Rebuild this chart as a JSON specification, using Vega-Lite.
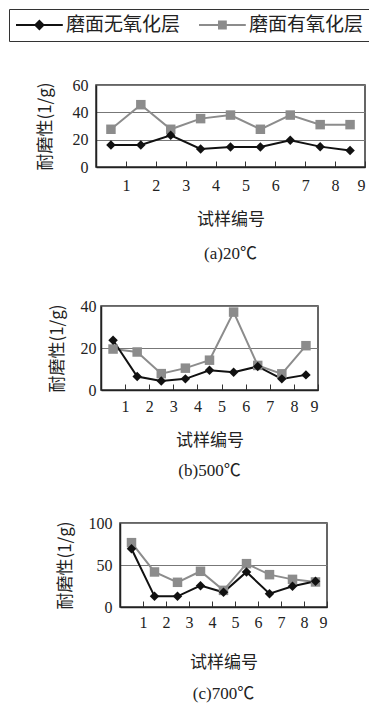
{
  "$schema": "https://vega.github.io/schema/vega-lite/v6.json",
  "background": "white",
  "padding": {"left": 8, "top": 8, "right": 0, "bottom": 0},
  "datasets": {
    "d": [
      {"panel": "a", "series": "磨面有氧化层", "x": 0.5, "y": 27.6},
      {"panel": "a", "series": "磨面有氧化层", "x": 1.5, "y": 45.6},
      {"panel": "a", "series": "磨面有氧化层", "x": 2.5, "y": 27.6},
      {"panel": "a", "series": "磨面有氧化层", "x": 3.5, "y": 35.4},
      {"panel": "a", "series": "磨面有氧化层", "x": 4.5, "y": 38.0},
      {"panel": "a", "series": "磨面有氧化层", "x": 5.5, "y": 27.6},
      {"panel": "a", "series": "磨面有氧化层", "x": 6.5, "y": 38.0},
      {"panel": "a", "series": "磨面有氧化层", "x": 7.5, "y": 31.0},
      {"panel": "a", "series": "磨面有氧化层", "x": 8.5, "y": 31.0},
      {"panel": "a", "series": "磨面无氧化层", "x": 0.5, "y": 16.1},
      {"panel": "a", "series": "磨面无氧化层", "x": 1.5, "y": 16.1},
      {"panel": "a", "series": "磨面无氧化层", "x": 2.5, "y": 23.2},
      {"panel": "a", "series": "磨面无氧化层", "x": 3.5, "y": 13.2},
      {"panel": "a", "series": "磨面无氧化层", "x": 4.5, "y": 14.6},
      {"panel": "a", "series": "磨面无氧化层", "x": 5.5, "y": 14.6},
      {"panel": "a", "series": "磨面无氧化层", "x": 6.5, "y": 19.5},
      {"panel": "a", "series": "磨面无氧化层", "x": 7.5, "y": 14.9},
      {"panel": "a", "series": "磨面无氧化层", "x": 8.5, "y": 12.0},
      {"panel": "b", "series": "磨面有氧化层", "x": 0.5, "y": 19.5},
      {"panel": "b", "series": "磨面有氧化层", "x": 1.5, "y": 18.1},
      {"panel": "b", "series": "磨面有氧化层", "x": 2.5, "y": 7.8},
      {"panel": "b", "series": "磨面有氧化层", "x": 3.5, "y": 10.4},
      {"panel": "b", "series": "磨面有氧化层", "x": 4.5, "y": 14.2},
      {"panel": "b", "series": "磨面有氧化层", "x": 5.5, "y": 37.1},
      {"panel": "b", "series": "磨面有氧化层", "x": 6.5, "y": 11.7},
      {"panel": "b", "series": "磨面有氧化层", "x": 7.5, "y": 7.7},
      {"panel": "b", "series": "磨面有氧化层", "x": 8.5, "y": 21.1},
      {"panel": "b", "series": "磨面无氧化层", "x": 0.5, "y": 23.7},
      {"panel": "b", "series": "磨面无氧化层", "x": 1.5, "y": 6.4},
      {"panel": "b", "series": "磨面无氧化层", "x": 2.5, "y": 4.3},
      {"panel": "b", "series": "磨面无氧化层", "x": 3.5, "y": 5.3},
      {"panel": "b", "series": "磨面无氧化层", "x": 4.5, "y": 9.4},
      {"panel": "b", "series": "磨面无氧化层", "x": 5.5, "y": 8.5},
      {"panel": "b", "series": "磨面无氧化层", "x": 6.5, "y": 11.2},
      {"panel": "b", "series": "磨面无氧化层", "x": 7.5, "y": 5.3},
      {"panel": "b", "series": "磨面无氧化层", "x": 8.5, "y": 7.2},
      {"panel": "c", "series": "磨面有氧化层", "x": 0.5, "y": 76.6},
      {"panel": "c", "series": "磨面有氧化层", "x": 1.5, "y": 41.7},
      {"panel": "c", "series": "磨面有氧化层", "x": 2.5, "y": 29.4},
      {"panel": "c", "series": "磨面有氧化层", "x": 3.5, "y": 42.5},
      {"panel": "c", "series": "磨面有氧化层", "x": 4.5, "y": 19.8},
      {"panel": "c", "series": "磨面有氧化层", "x": 5.5, "y": 51.6},
      {"panel": "c", "series": "磨面有氧化层", "x": 6.5, "y": 38.5},
      {"panel": "c", "series": "磨面有氧化层", "x": 7.5, "y": 32.9},
      {"panel": "c", "series": "磨面有氧化层", "x": 8.5, "y": 29.8},
      {"panel": "c", "series": "磨面无氧化层", "x": 0.5, "y": 69.4},
      {"panel": "c", "series": "磨面无氧化层", "x": 1.5, "y": 12.7},
      {"panel": "c", "series": "磨面无氧化层", "x": 2.5, "y": 12.7},
      {"panel": "c", "series": "磨面无氧化层", "x": 3.5, "y": 25.4},
      {"panel": "c", "series": "磨面无氧化层", "x": 4.5, "y": 17.5},
      {"panel": "c", "series": "磨面无氧化层", "x": 5.5, "y": 41.7},
      {"panel": "c", "series": "磨面无氧化层", "x": 6.5, "y": 15.9},
      {"panel": "c", "series": "磨面无氧化层", "x": 7.5, "y": 24.6},
      {"panel": "c", "series": "磨面无氧化层", "x": 8.5, "y": 30.6}
    ]
  },
  "spacing": 34,
  "vconcat": [
    {
      "spacing": 0,
      "hconcat": [
        {"width": 26, "height": 2, "data": {"values": []}, "mark": {"type": "point", "opacity": 0}, "view": {"stroke": null}},
        {
          "width": 269, "height": 82,
          "data": {"name": "d"},
          "transform": [{"filter": "datum.panel === 'a'"}],
          "title": {"text": "(a)20℃", "orient": "bottom", "offset": 19},
          "encoding": {
            "x": {"field": "x", "type": "quantitative", "scale": {"domain": [0, 9], "nice": false}, "axis": {"values": [1, 2, 3, 4, 5, 6, 7, 8, 9], "title": "试样编号", "labelPadding": 16, "titlePadding": 18}},
            "y": {"field": "y", "type": "quantitative", "scale": {"domain": [0, 60], "nice": false}, "axis": {"values": [0, 20, 40, 60], "title": "耐磨性(1/g)", "titlePadding": 18}},
            "color": {"field": "series", "type": "nominal", "scale": {"domain": ["磨面无氧化层", "磨面有氧化层"], "range": ["#111111", "#8c8c8c"]}}
          },
          "layer": [
            {"transform": [{"filter": "false"}], "mark": {"type": "point", "filled": false, "strokeWidth": 2, "opacity": 1}, "encoding": {"shape": {"field": "series", "type": "nominal", "scale": {"domain": ["磨面无氧化层", "磨面有氧化层"], "range": ["M-1,0H4.2M1.6,-0.45L2.05,0L1.6,0.45L1.15,0Z", "M-1,0H4.2M1.22,-0.38H1.98V0.38H1.22Z"]}}}},
            {"mark": {"type": "line", "strokeWidth": 2}},
            {"transform": [{"filter": "datum.series === '磨面有氧化层'"}], "mark": {"type": "point", "filled": true, "shape": "square", "size": 90, "opacity": 1}},
            {"transform": [{"filter": "datum.series === '磨面无氧化层'"}], "mark": {"type": "point", "filled": true, "shape": "diamond", "size": 90, "opacity": 1}}
          ]
        }
      ]
    },
    {
      "spacing": 0,
      "hconcat": [
        {"width": 38, "height": 2, "data": {"values": []}, "mark": {"type": "point", "opacity": 0}, "view": {"stroke": null}},
        {
          "width": 217, "height": 84,
          "data": {"name": "d"},
          "transform": [{"filter": "datum.panel === 'b'"}],
          "title": {"text": "(b)500℃", "orient": "bottom", "offset": 15},
          "encoding": {
            "x": {"field": "x", "type": "quantitative", "scale": {"domain": [0, 9], "nice": false}, "axis": {"values": [1, 2, 3, 4, 5, 6, 7, 8, 9], "title": "试样编号", "labelPadding": 14, "titlePadding": 18}},
            "y": {"field": "y", "type": "quantitative", "scale": {"domain": [0, 40], "nice": false}, "axis": {"values": [0, 20, 40], "title": "耐磨性(1/g)", "titlePadding": 14, "labelPadding": 5}},
            "color": {"field": "series", "type": "nominal", "scale": {"domain": ["磨面无氧化层", "磨面有氧化层"], "range": ["#111111", "#8c8c8c"]}}
          },
          "layer": [
            {"mark": {"type": "line", "strokeWidth": 2}},
            {"transform": [{"filter": "datum.series === '磨面有氧化层'"}], "mark": {"type": "point", "filled": true, "shape": "square", "size": 90, "opacity": 1}},
            {"transform": [{"filter": "datum.series === '磨面无氧化层'"}], "mark": {"type": "point", "filled": true, "shape": "diamond", "size": 90, "opacity": 1}}
          ]
        }
      ]
    },
    {
      "spacing": 0,
      "hconcat": [
        {"width": 46, "height": 2, "data": {"values": []}, "mark": {"type": "point", "opacity": 0}, "view": {"stroke": null}},
        {
          "width": 207, "height": 84,
          "data": {"name": "d"},
          "transform": [{"filter": "datum.panel === 'c'"}],
          "title": {"text": "(c)700℃", "orient": "bottom", "offset": 16},
          "encoding": {
            "x": {"field": "x", "type": "quantitative", "scale": {"domain": [0, 9], "nice": false}, "axis": {"values": [1, 2, 3, 4, 5, 6, 7, 8, 9], "title": "试样编号", "labelPadding": 13, "titlePadding": 24}},
            "y": {"field": "y", "type": "quantitative", "scale": {"domain": [0, 100], "nice": false}, "axis": {"values": [0, 50, 100], "title": "耐磨性(1/g)", "titlePadding": 14}},
            "color": {"field": "series", "type": "nominal", "scale": {"domain": ["磨面无氧化层", "磨面有氧化层"], "range": ["#111111", "#8c8c8c"]}}
          },
          "layer": [
            {"mark": {"type": "line", "strokeWidth": 2}},
            {"transform": [{"filter": "datum.series === '磨面有氧化层'"}], "mark": {"type": "point", "filled": true, "shape": "square", "size": 90, "opacity": 1}},
            {"transform": [{"filter": "datum.series === '磨面无氧化层'"}], "mark": {"type": "point", "filled": true, "shape": "diamond", "size": 90, "opacity": 1}}
          ]
        }
      ]
    }
  ],
  "config": {
    "view": {"stroke": "#333", "strokeWidth": 1.5},
    "axis": {"labelFont": "Liberation Serif", "labelFontSize": 16, "labelColor": "#222", "titleFont": "Noto Sans CJK SC", "titleFontSize": 17, "titleFontWeight": "normal", "titleColor": "#222", "domainColor": "#222", "domainWidth": 1.5},
    "axisX": {"grid": false, "tickSize": -6, "tickColor": "#333"},
    "axisY": {"ticks": false, "grid": true, "gridColor": "#777", "gridWidth": 1, "labelPadding": 8},
    "title": {"font": "Liberation Serif, Noto Sans CJK SC", "fontSize": 17, "fontWeight": "normal", "color": "#222"},
    "legend": {
      "orient": "top",
      "direction": "horizontal",
      "title": null,
      "labelFont": "Noto Sans CJK SC",
      "labelFontSize": 19,
      "labelColor": "#222",
      "symbolSize": 324,
      "symbolStrokeWidth": 2,
      "labelOffset": 31,
      "columnPadding": 14,
      "strokeColor": "#333",
      "padding": 6,
      "offset": 35
    }
  }
}
